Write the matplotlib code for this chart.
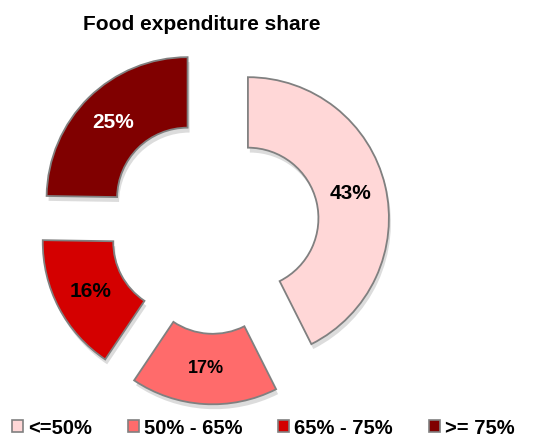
import numpy as np
import matplotlib
matplotlib.use("Agg")
import matplotlib.pyplot as plt
from matplotlib.patches import Patch

# data
categories = ['<=50%', '50% - 65%', '65% - 75%', '>= 75%']
shares = [43, 17, 16, 25]
colors = ['#FFD7D7', '#FF6B6B', '#D40000', '#800000']
label_colors = ['black', 'black', 'black', 'white']
label_sizes = [15, 13, 15, 15]
explode = [0.24, 0.265, 0.25, 0.277]

plt.rcParams['font.family'] = ['Liberation Sans', 'DejaVu Sans']

fig = plt.figure(figsize=(5.4, 4.37), dpi=100)
ax = fig.add_axes([0, 0, 1, 1])

wedges, _ = ax.pie(
    shares,
    colors=colors,
    explode=explode,
    startangle=90,
    counterclock=False,
    radius=1.0,
    wedgeprops=dict(width=0.5, edgecolor='#808080', linewidth=1.3),
    shadow=dict(ox=0.01, oy=-0.025, facecolor='0.55', edgecolor='none', alpha=0.3),
)

# percentage labels in the middle of each ring segment
for w, txt, c, fs in zip(wedges, shares, label_colors, label_sizes):
    mid = np.deg2rad((w.theta1 + w.theta2) / 2)
    r = w.r - w.width / 2
    x = w.center[0] + r * np.cos(mid)
    y = w.center[1] + r * np.sin(mid)
    ax.text(x, y, f"{txt}%", ha='center', va='center', color=c,
            fontsize=fs, fontweight='bold')

# place the pie so one unit = 141 px, centre at (215, 226) px from top-left
px = 141.0
ax.set_aspect('auto')
ax.set_xlim(-215 / px, (540 - 215) / px)
ax.set_ylim(-(437 - 226) / px, 226 / px)
ax.axis('off')

fig.text(202 / 540, 1 - 24 / 437, 'Food expenditure share', ha='center', va='center',
         fontsize=15, fontweight='bold')

handles = [Patch(facecolor=c, edgecolor='#808080', linewidth=1.2) for c in colors]
fig.legend(handles, categories, loc='center left', bbox_to_anchor=(12 / 540, 1 - 428 / 437),
           ncol=4, frameon=False, borderpad=0, borderaxespad=0,
           handlelength=0.55, handleheight=0.55, handletextpad=0.25, columnspacing=1.78,
           prop=dict(size=14.5, weight='bold'))

fig.savefig('out.png', dpi=100)
